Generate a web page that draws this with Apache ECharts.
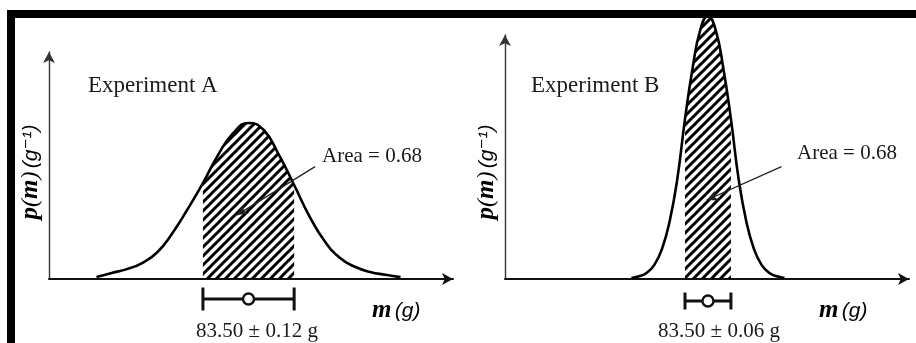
<!DOCTYPE html>
<html><head><meta charset="utf-8">
<script src="https://cdn.jsdelivr.net/npm/echarts@6/dist/echarts.min.js"></script>
<style>html,body{margin:0;padding:0;background:#fff}#c{width:916px;height:343px}</style>
</head><body><div id="c"></div>
<script>
// ---- data ----
const massA = [83.10,83.14,83.18,83.22,83.26,83.30,83.34,83.38,83.42,83.46,83.50,83.54,83.58,83.62,83.66,83.70,83.74,83.78,83.82,83.86,83.90];
const densA = [0.04,0.13,0.21,0.34,0.57,0.98,1.49,2.04,2.64,3.11,3.32,3.17,2.64,2.00,1.34,0.81,0.45,0.26,0.15,0.09,0.04];
const massB = [83.30,83.32,83.34,83.36,83.38,83.40,83.42,83.44,83.46,83.48,83.50,83.52,83.54,83.56,83.58,83.60,83.62,83.64,83.66,83.68,83.70];
const densB = [0.02,0.06,0.13,0.30,0.64,1.23,2.13,3.40,4.49,5.30,5.60,5.30,4.49,3.40,2.13,1.23,0.64,0.30,0.13,0.06,0.02];
const means = [83.50, 83.50];
const sigmas = [0.12, 0.06];
const titles = ['Experiment A', 'Experiment B'];
const resultLabels = ['83.50 ± 0.12 g', '83.50 ± 0.06 g'];
const areaLabel = 'Area = 0.68';
const arrowFrom = [[83.675, 2.39], [83.692, 2.39]];
const arrowTo = [[83.469, 1.36], [83.497, 1.68]];

// ---- hatch pattern ----
const P = 9;
const pc = document.createElement('canvas'); pc.width = P; pc.height = P;
const g2 = pc.getContext('2d'); g2.strokeStyle = '#000'; g2.lineWidth = 3;
for (let k = -2; k <= 2; k++) { g2.beginPath(); g2.moveTo(k*P - P, 2*P); g2.lineTo(k*P + 2*P, -P); g2.stroke(); }
const hatch = { image: pc, repeat: 'repeat' };

const pairs = (xs, ys) => xs.map((x, i) => [x, ys[i]]);
const within = (xs, ys, m, s) => pairs(xs, ys).filter(p => p[0] >= m - s - 1e-9 && p[0] <= m + s + 1e-9);

function curveSeries(i, xs, ys) {
  return {
    type: 'line', xAxisIndex: i, yAxisIndex: i, data: pairs(xs, ys), smooth: 0.5,
    showSymbol: false, clip: false, z: 3, silent: true,
    lineStyle: { color: '#000', width: 2.6 },
    markLine: {
      silent: true, symbol: ['none', 'arrow'], symbolSize: [8, 11], animation: false,
      lineStyle: { color: '#222', width: 1.3, type: 'solid' }, label: { show: false },
      data: [[{ coord: arrowFrom[i] }, { coord: arrowTo[i] }]]
    }
  };
}
function hatchSeries(i, xs, ys) {
  return {
    type: 'line', xAxisIndex: i, yAxisIndex: i, data: within(xs, ys, means[i], sigmas[i]),
    smooth: 0.5, showSymbol: false, clip: false, z: 2, silent: true,
    lineStyle: { width: 0 }, areaStyle: { color: hatch, opacity: 1 }
  };
}
function errSeries(i, yOff, capH) {
  return {
    type: 'custom', xAxisIndex: i, yAxisIndex: i, data: [[means[i], sigmas[i]]], clip: false, z: 5, silent: true,
    renderItem(params, api) {
      const m = api.value(0), s = api.value(1);
      const l = api.coord([m - s, 0]), r = api.coord([m + s, 0]), c = api.coord([m, 0]);
      const y = c[1] + yOff;
      const st = { stroke: '#111', lineWidth: 3 };
      return { type: 'group', children: [
        { type: 'line', shape: { x1: l[0], y1: y, x2: r[0], y2: y }, style: st },
        { type: 'line', shape: { x1: l[0], y1: y - capH/2, x2: l[0], y2: y + capH/2 }, style: st },
        { type: 'line', shape: { x1: r[0], y1: y - capH/2, x2: r[0], y2: y + capH/2 }, style: st },
        { type: 'circle', shape: { cx: c[0], cy: y, r: 5.5 }, style: { fill: '#fff', stroke: '#111', lineWidth: 2.4 } }
      ]};
    }
  };
}

const xAx = (i, min, max) => ({
  type: 'value', gridIndex: i, min, max,
  axisLine: { show: true, onZero: false, symbol: ['none', 'arrow'], symbolSize: [9, 11], lineStyle: { color: '#111', width: 2 } },
  axisTick: { show: false }, axisLabel: { show: false }, splitLine: { show: false }
});
const yAx = (i, max) => ({
  type: 'value', gridIndex: i, min: 0, max,
  axisLine: { show: true, symbol: ['none', 'arrow'], symbolSize: [9, 11], lineStyle: { color: '#333', width: 1.4 } },
  axisTick: { show: false }, axisLabel: { show: false }, splitLine: { show: false }
});

const serif = 'Liberation Serif';
const txt = (text, x, y, size, align) => ({
  type: 'text', x, y, z: 50, silent: true,
  style: { text, font: size + 'px "' + serif + '"', fill: '#1a1a1a', align, textAlign: align, verticalAlign: 'middle', textVerticalAlign: 'middle' }
});
const mRich = {
  m: { fontFamily: serif, fontStyle: 'italic', fontWeight: 'bold', fontSize: 25, color: '#111' },
  g: { fontFamily: 'Liberation Sans, DejaVu Sans', fontStyle: 'italic', fontSize: 21, color: '#111' },
  s: { fontFamily: serif, fontStyle: 'italic', fontWeight: 'bold', fontSize: 25, color: '#111' },
  n: { fontFamily: serif, fontStyle: 'italic', fontSize: 24, color: '#111' }
};
const yLabel = (x) => ({
  type: 'text', x, y: 172, rotation: Math.PI / 2, z: 50, silent: true,
  style: { text: '{s|p}{n|(}{s|m}{n|)} {g|(g⁻¹)}', rich: mRich, align: 'center', textAlign: 'center', verticalAlign: 'middle', textVerticalAlign: 'middle' }
});
const xLabel = (x) => ({
  type: 'text', x, y: 311, z: 50, silent: true,
  style: { text: '{m|m} {g|(g)}', rich: mRich, align: 'left', textAlign: 'left', verticalAlign: 'middle', textVerticalAlign: 'middle' }
});

const chart = echarts.init(document.getElementById('c'), null, { renderer: 'canvas' });
chart.setOption({
  animation: false,
  backgroundColor: '#fff',
  grid: [
    { left: 49, top: 52, width: 404, height: 227, outerBoundsMode: 'none', containLabel: false },
    { left: 505, top: 35, width: 404, height: 244, outerBoundsMode: 'none', containLabel: false }
  ],
  xAxis: [xAx(0, 82.975, 84.038), xAx(1, 82.97, 84.025)],
  yAxis: [yAx(0, 4.83), yAx(1, 5.19)],
  series: [
    hatchSeries(0, massA, densA), curveSeries(0, massA, densA), errSeries(0, 20, 23),
    hatchSeries(1, massB, densB), curveSeries(1, massB, densB), errSeries(1, 22, 17)
  ],
  graphic: [
    txt(titles[0], 88, 86, 23, 'left'),
    txt(titles[1], 531, 86, 23, 'left'),
    txt(areaLabel, 322, 156, 21, 'left'),
    txt(areaLabel, 797, 153, 21, 'left'),
    txt(resultLabels[0], 257, 331, 21, 'center'),
    txt(resultLabels[1], 719, 331, 21, 'center'),
    yLabel(31), yLabel(487),
    xLabel(372), xLabel(819),
    { type: 'rect', z: 100, silent: true, shape: { x: 7, y: 10, width: 909, height: 8 }, style: { fill: '#000' } },
    { type: 'rect', z: 100, silent: true, shape: { x: 7, y: 10, width: 8, height: 333 }, style: { fill: '#000' } }
  ]
});
</script></body></html>
